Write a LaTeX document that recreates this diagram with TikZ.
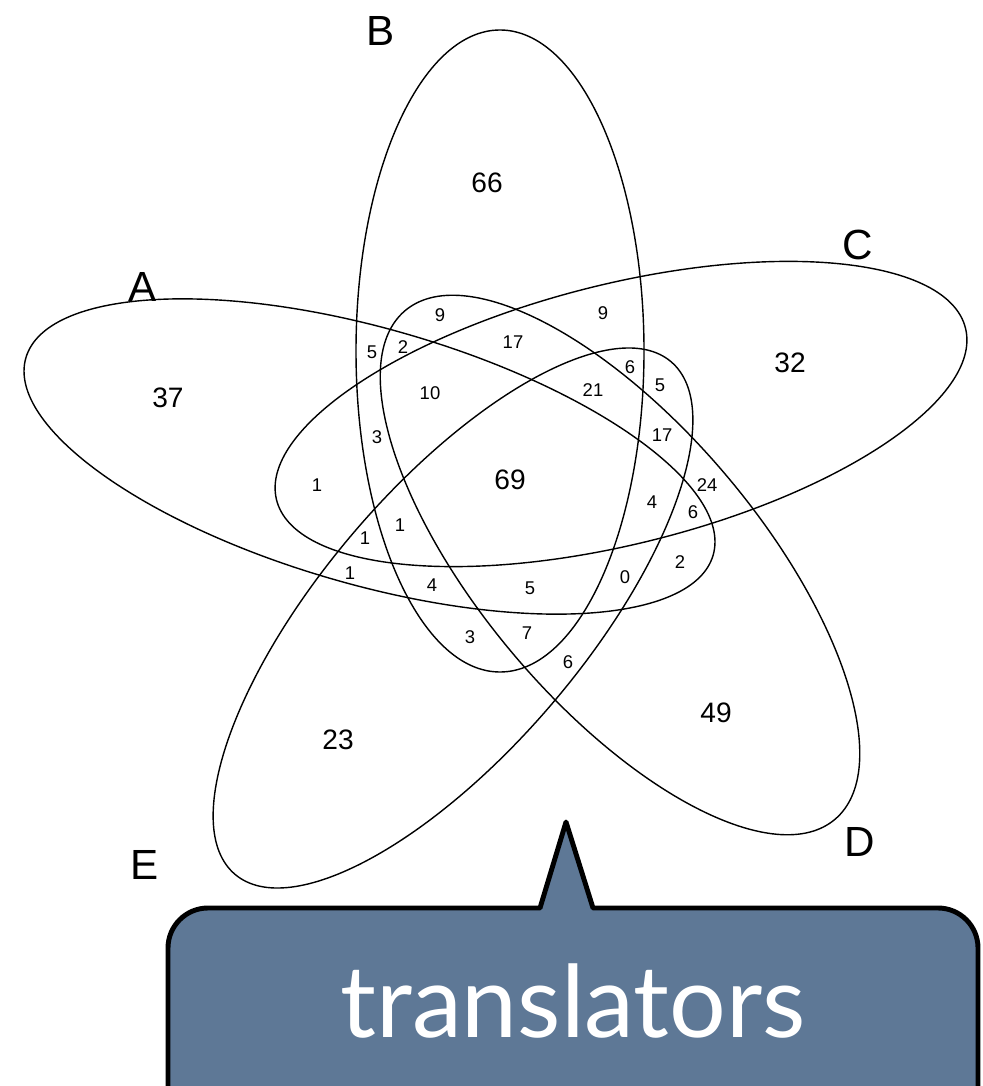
\documentclass[tikz,border=0pt]{standalone}
\usepackage{fontspec}
\setmainfont{Liberation Sans}
\newfontfamily\bubblefont{Lato}
\usepackage{tikz}
\usetikzlibrary{shapes.geometric}
\definecolor{bubbleblue}{RGB}{94,120,150}
\tikzset{
  %% Sets (ellipses)
  vset/.style={draw, ellipse, line width=0.8pt, inner sep=0pt},
  %% Texts
  setname/.style={font=\fontsize{24}{28}\selectfont},
  bigcount/.style={font=\fontsize{16}{19}\selectfont},
  count/.style={font=\fontsize{10.5}{12}\selectfont},
  %% Speech bubble
  bubble/.style={draw=black, line width=2.8pt, fill=bubbleblue, line join=round},
  bubbletext/.style={font=\bubblefont\fontsize{57}{60}\selectfont, text=white, anchor=base},
}

\begin{document}
\begin{tikzpicture}[x=1cm, y=1cm]
\clip (0,0) rectangle (19.64,-21.72);
\fill[white] (0,0) rectangle (19.64,-21.72);

%% Sets
\node[vset, minimum width=14.30cm, minimum height=5.12cm, rotate=-16]   (setA) at ( 7.39, -9.13) {};
\node[vset, minimum width=12.84cm, minimum height=5.76cm, rotate=90]    (setB) at (10.00, -7.02) {};
\node[vset, minimum width=14.20cm, minimum height=5.20cm, rotate=14]    (setC) at (12.42, -8.28) {};
\node[vset, minimum width=13.32cm, minimum height=5.56cm, rotate=-49.8] (setD) at (12.40,-11.30) {};
\node[vset, minimum width=13.46cm, minimum height=5.24cm, rotate=49.6]  (setE) at ( 9.06,-12.36) {};

%% Set names
\node[setname] (nameA) at ( 2.86, -5.74) {A};
\node[setname] (nameB) at ( 7.62, -0.62) {B};
\node[setname] (nameC) at (17.16, -4.90) {C};
\node[setname] (nameD) at (17.20,-16.84) {D};
\node[setname] (nameE) at ( 2.90,-17.30) {E};

%% Only one set, and all five
\node[bigcount] (onlyB) at ( 9.74, -3.66) {66};
\node[bigcount] (onlyA) at ( 3.36, -7.96) {37};
\node[bigcount] (onlyC) at (15.80, -7.26) {32};
\node[bigcount] (onlyD) at (14.32,-14.26) {49};
\node[bigcount] (onlyE) at ( 6.76,-14.80) {23};
\node[bigcount] (all)   at (10.20, -9.60) {69};

%% Other regions
\foreach \n/\x/\y [count=\i] in {
    9/8.80/-6.30, 9/12.06/-6.26, 5/7.44/-7.04, 2/8.06/-6.94, 17/10.26/-6.84,
    6/12.60/-7.34, 5/13.20/-7.70, 10/8.60/-7.86, 21/11.86/-7.80, 3/7.54/-8.74,
    17/13.24/-8.70, 1/6.34/-9.70, 24/14.14/-9.70, 4/13.04/-10.04, 6/13.86/-10.24,
    1/8.00/-10.50, 1/7.30/-10.76, 1/7.00/-11.46, 4/8.64/-11.70, 5/10.60/-11.76,
    0/12.50/-11.54, 2/13.60/-11.24, 3/9.40/-12.74, 7/10.54/-12.66, 6/11.36/-13.24}
  \node[count] (region\i) at (\x,\y) {\n};

%% Speech bubble
\draw[bubble] (3.36,-22.6) [rounded corners=0.8cm] -- (3.36,-18.16)
  [sharp corners] -- (10.80,-18.16) -- (11.32,-16.44) -- (11.86,-18.16)
  [rounded corners=0.8cm] -- (19.56,-18.16) -- (19.56,-22.6);
\node[bubbletext] (label) at (11.46,-20.74) {translators};

\end{tikzpicture}
\end{document}
